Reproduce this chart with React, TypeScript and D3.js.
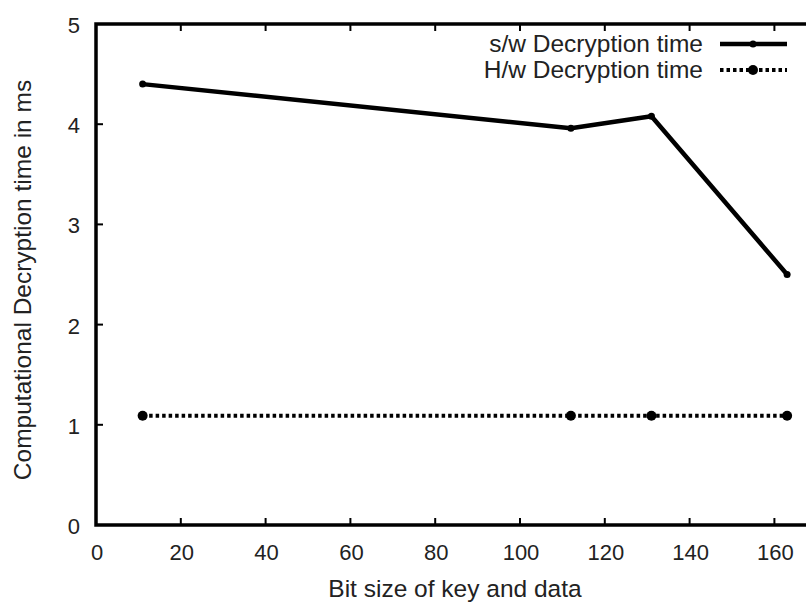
import React from "react";
import * as d3 from "d3";

const bitSizes = [11, 112, 131, 163];
const swTimes = [4.4, 3.96, 4.08, 2.5];
const hwTimes = [1.09, 1.09, 1.09, 1.09];
const xTicks = [0, 20, 40, 60, 80, 100, 120, 140, 160];
const yTicks = [0, 1, 2, 3, 4, 5];
const legendLabels = ["s/w Decryption time", "H/w Decryption time"];

const W = 806;
const H = 602;
const margin = { left: 96, top: 24, bottom: 77 };
const font = "'Liberation Sans', Arial, sans-serif";

export default function App() {
  const x = d3.scaleLinear().domain([0, 170]).range([margin.left, margin.left + 170 * 4.24]);
  const y = d3.scaleLinear().domain([0, 5]).range([H - margin.bottom, margin.top]);

  const line = d3
    .line<number>()
    .x((d, i) => x(bitSizes[i]))
    .y((d) => d);

  const swPath = line(swTimes.map((v) => y(v)));
  const hwPath = line(hwTimes.map((v) => y(v)));

  const x0 = x(0);
  const x1 = x(170);
  const y0 = y(0);
  const y1 = y(5);

  return (
    <svg width={W} height={H} style={{ position: "absolute", left: 0, top: 0, background: "#fff" }}>
      <g stroke="#000" strokeWidth={2}>
        {xTicks.map((t) => (
          <g key={"xt" + t}>
            <line x1={x(t)} x2={x(t)} y1={y0} y2={y0 - 7} />
            <line x1={x(t)} x2={x(t)} y1={y1} y2={y1 + 7} />
          </g>
        ))}
        {yTicks.map((t) => (
          <line key={"yt" + t} x1={x0} x2={x0 + 7} y1={y(t)} y2={y(t)} />
        ))}
      </g>
      <rect x={x0} y={y1} width={x1 - x0} height={y0 - y1} fill="none" stroke="#000" strokeWidth={3.5} />

      <g fontFamily={font} fontSize={22} fill="#222">
        {xTicks.map((t) => (
          <text key={"xl" + t} x={x(t) + 1} y={y0 + 35} textAnchor="middle">
            {t}
          </text>
        ))}
        {yTicks.map((t) => (
          <text key={"yl" + t} x={80} y={y(t) + 9} textAnchor="end">
            {t}
          </text>
        ))}
        <text x={455} y={597} textAnchor="middle" fontSize={24.5}>
          Bit size of key and data
        </text>
        <text transform="translate(31, 280) rotate(-90)" textAnchor="middle" fontSize={24.5}>
          Computational Decryption time in ms
        </text>
        {legendLabels.map((l, i) => (
          <text key={l} x={703} y={52 + i * 26} textAnchor="end" fontSize={24.5}>
            {l}
          </text>
        ))}
      </g>

      <path d={swPath ?? ""} fill="none" stroke="#000" strokeWidth={4.5} strokeLinejoin="round" />
      {bitSizes.map((b, i) => (
        <circle key={"sp" + i} cx={x(b)} cy={y(swTimes[i])} r={3.5} fill="#000" />
      ))}
      <path d={hwPath ?? ""} fill="none" stroke="#000" strokeWidth={4} strokeDasharray="3.5,3" />
      {bitSizes.map((b, i) => (
        <circle key={"hp" + i} cx={x(b)} cy={y(hwTimes[i])} r={5} fill="#000" />
      ))}

      <line x1={720} x2={787} y1={44} y2={44} stroke="#000" strokeWidth={4.5} />
      <circle cx={753} cy={44} r={3.5} fill="#000" />
      <line x1={720} x2={787} y1={70} y2={70} stroke="#000" strokeWidth={4} strokeDasharray="3.5,3" />
      <circle cx={753} cy={70} r={5} fill="#000" />
    </svg>
  );
}
